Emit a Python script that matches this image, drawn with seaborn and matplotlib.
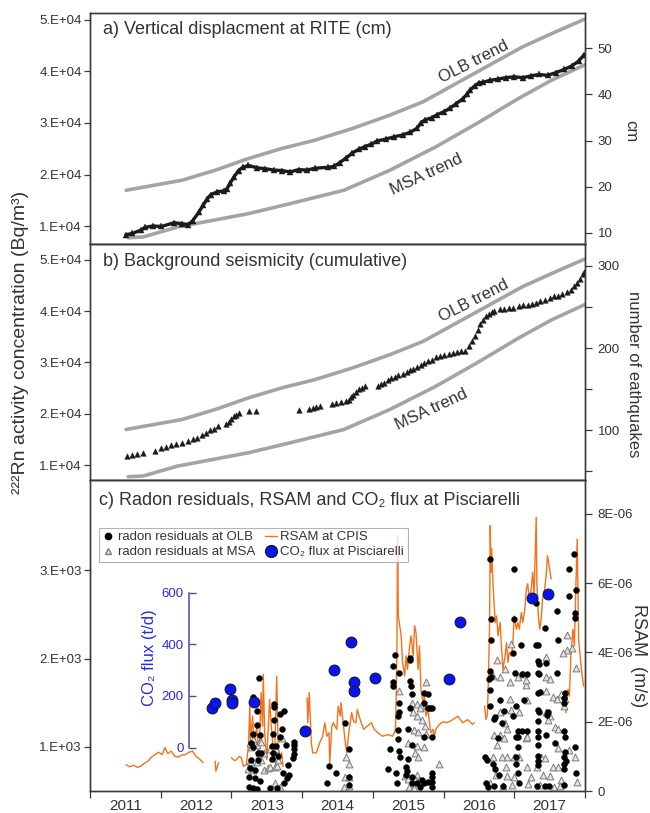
import numpy as np
import pandas as pd
import matplotlib
matplotlib.use("Agg")
import matplotlib.pyplot as plt
import seaborn as sns
from matplotlib.lines import Line2D

# ---------------- data ----------------
years = [2011, 2012, 2013, 2014, 2015, 2016, 2017]

# gray radon trends (Bq/m3), same in panels a and b
olb_trend_year = [2011.51, 2012.30, 2012.77, 2013.24, 2013.71, 2014.18, 2014.71, 2015.24,
                  2015.71, 2016.18, 2016.65, 2017.12, 2017.59, 2017.99]
olb_trend_val = [16937, 18882, 20826, 23096, 25041, 26661, 28930, 31524,
                 34117, 37682, 41248, 44814, 47731, 50130]
msa_trend_year = [2011.54, 2011.75, 2012.24, 2013.24, 2013.83, 2014.59, 2015.24, 2015.89,
                  2016.47, 2017.06, 2017.53, 2017.99]
msa_trend_val = [7730, 7864, 9805, 12398, 14343, 16937, 20826, 25365,
                 29903, 34765, 38331, 41248]

# panel a: vertical displacement at RITE (cm)
disp_year = [2011.51, 2011.60, 2011.72, 2011.78, 2011.89, 2012.01, 2012.19, 2012.30, 2012.39,
             2012.45, 2012.54, 2012.60, 2012.66, 2012.71, 2012.80, 2012.89, 2012.94, 2012.98,
             2013.04, 2013.10, 2013.16, 2013.24, 2013.36, 2013.48, 2013.60, 2013.71, 2013.83,
             2013.95, 2014.07, 2014.18, 2014.36, 2014.45, 2014.53, 2014.62, 2014.71, 2014.80,
             2014.89, 2014.98, 2015.06, 2015.18, 2015.30, 2015.42, 2015.53, 2015.62, 2015.68,
             2015.74, 2015.83, 2015.91, 2016.00, 2016.09, 2016.18, 2016.27, 2016.33, 2016.38,
             2016.44, 2016.50, 2016.56, 2016.65, 2016.77, 2016.88, 2017.00, 2017.12, 2017.24,
             2017.35, 2017.47, 2017.59, 2017.71, 2017.82, 2017.91, 2017.99]
disp_cm = [9.6, 9.9, 10.6, 11.2, 11.5, 11.4, 12.2, 12.0, 11.8,
           12.6, 14.5, 16.0, 17.4, 18.3, 18.9, 19.1, 19.6, 20.7,
           22.2, 23.5, 24.2, 24.6, 24.1, 23.9, 23.6, 23.5, 23.2,
           23.7, 23.6, 24.0, 24.2, 24.4, 25.2, 26.2, 27.3, 28.1,
           28.7, 29.2, 29.9, 30.3, 30.8, 31.2, 31.8, 32.6, 33.8,
           34.5, 34.9, 35.6, 36.2, 37.0, 38.0, 39.0, 40.0, 41.0,
           41.8, 42.5, 42.6, 43.0, 43.3, 43.6, 43.8, 43.6, 44.0,
           44.3, 44.1, 44.7, 45.4, 46.2, 47.2, 48.6]

# panel b: cumulative background seismicity
eq_year = [2011.53, 2011.60, 2011.67, 2011.75, 2011.92,
           2012.01, 2012.08, 2012.15, 2012.22, 2012.30, 2012.38, 2012.45, 2012.52, 2012.58,
           2012.64, 2012.70, 2012.75, 2012.81,
           2012.92, 2012.96, 2013.00, 2013.04, 2013.07, 2013.10,
           2013.25, 2013.35,
           2013.95, 2014.10, 2014.15, 2014.20, 2014.25, 2014.42, 2014.48, 2014.55, 2014.62,
           2014.66, 2014.69, 2014.72, 2014.76, 2014.80, 2014.85, 2014.89,
           2015.07, 2015.12, 2015.16, 2015.21, 2015.26, 2015.31, 2015.36, 2015.42, 2015.48,
           2015.52, 2015.57, 2015.62, 2015.68, 2015.73, 2015.78, 2015.84, 2015.89, 2015.95,
           2016.01, 2016.07, 2016.13, 2016.19, 2016.25, 2016.31, 2016.36, 2016.40, 2016.44,
           2016.48, 2016.52, 2016.56, 2016.60, 2016.64, 2016.68, 2016.72,
           2016.80, 2016.86, 2016.92, 2016.98, 2017.07, 2017.13, 2017.19, 2017.25, 2017.31,
           2017.37, 2017.43, 2017.50, 2017.56, 2017.62, 2017.68, 2017.74, 2017.80, 2017.85,
           2017.89, 2017.93, 2017.97, 2017.99]
eq_count = [69, 70, 71, 72, 75,
            78, 80, 82, 83, 85, 87, 89, 91, 94,
            97, 100, 102, 105,
            107, 110, 114, 117, 119, 121,
            124, 124,
            125, 126, 127, 128, 129, 132, 133, 134, 135,
            137, 140, 143, 147, 150, 152, 154,
            154, 156, 158, 161, 163, 165, 167, 169, 171,
            173, 175, 177, 180, 182, 184, 186, 189, 190,
            192, 193, 194, 195, 196, 197, 203, 209, 215,
            222, 229, 234, 239, 242, 244, 245,
            247, 248, 249, 249, 251, 252, 253, 254, 255,
            257, 259, 261, 263, 264, 266, 268, 271, 275,
            279, 284, 290, 293]

# panel c: RSAM at CPIS (1e-6 m/s); None separates data gaps
rsam_year = [2011.51, 2011.56, 2011.62, 2011.67, 2011.72, 2011.77, 2011.82, 2011.87, 2011.92,
             2011.97, 2012.02, 2012.06, 2012.10, 2012.15, 2012.20, 2012.25, 2012.30, 2012.35,
             2012.40, 2012.45, 2012.50, 2012.55, 2012.60, None,
             2012.77, 2012.78, 2012.80, 2012.82, None,
             2013.00, 2013.04, 2013.07, 2013.11, 2013.14, 2013.17, 2013.21, 2013.24, 2013.26,
             2013.27, 2013.28, 2013.30, 2013.32, 2013.34, 2013.36, 2013.38, 2013.40, 2013.42,
             2013.44, 2013.45, 2013.47, 2013.50, 2013.54, 2013.56, 2013.59, 2013.61, 2013.64,
             2013.66, 2013.69, 2013.71, 2013.73, None,
             2014.07, 2014.08, 2014.10, 2014.13, 2014.15, 2014.20, 2014.25, 2014.29, 2014.32,
             2014.35, 2014.38, 2014.39, 2014.42, 2014.44, 2014.49, 2014.51, 2014.54, 2014.55,
             2014.58, 2014.61, 2014.63, 2014.66, 2014.68, 2014.70, 2014.73, 2014.76, 2014.78,
             2014.83, 2014.87, 2014.92, 2014.98, 2015.02, 2015.07, 2015.14, 2015.21, 2015.28,
             2015.32, 2015.33, 2015.34, 2015.35, 2015.36, 2015.38, 2015.40, 2015.42, 2015.45,
             2015.47, 2015.49, 2015.52, 2015.54, 2015.57, 2015.59, 2015.61, 2015.64, 2015.66,
             2015.68, 2015.71, 2015.73, 2015.75, 2015.78, 2015.80, 2015.82, 2015.85, 2015.87,
             2015.89, 2015.94, 2016.00, 2016.04, 2016.10, 2016.16, 2016.20, 2016.27, 2016.34,
             2016.41, 2016.43, None,
             2016.58, 2016.60, 2016.62, 2016.63, 2016.65, 2016.66, 2016.67, 2016.68, 2016.70,
             2016.73, 2016.75, 2016.77, 2016.80, 2016.82, 2016.84, 2016.87, 2016.89, 2016.91,
             2016.93, 2016.96, 2016.98, 2017.00, 2017.03, 2017.05, 2017.07, 2017.10, 2017.12,
             2017.15, 2017.17, 2017.19, 2017.21, 2017.24, 2017.26, 2017.28, 2017.31, 2017.32,
             2017.34, 2017.36, 2017.38, 2017.40, 2017.43, 2017.45, 2017.47, 2017.50, 2017.52,
             None,
             2017.73, 2017.76, 2017.78, 2017.80, 2017.83, 2017.85, 2017.87, 2017.89, 2017.90,
             2017.91, 2017.94, 2017.96, 2017.98]
rsam_val = [0.76, 0.70, 0.74, 0.68, 0.72, 0.80, 0.86, 0.98, 1.05,
            1.12, 1.05, 1.25, 1.08, 1.15, 1.00, 0.98, 1.04, 1.05,
            1.12, 1.15, 1.00, 0.92, 0.82, None,
            0.86, 0.57, 0.70, 0.82, None,
            0.96, 0.88, 0.90, 1.00, 0.96, 0.71, 0.76, 1.29, 2.45,
            1.50, 1.69, 2.16, 1.29, 1.60, 1.87, 1.00, 1.60, 2.84,
            1.87, 3.37, 1.69, 0.91, 2.64, 1.98, 1.20, 0.91, 3.32,
            1.29, 0.91, 1.10, 0.71, None,
            2.69, 1.97, 2.84, 1.39, 1.10, 1.10, 1.40, 1.58, 1.97,
            1.58, 1.68, 0.81, 1.87, 1.97, 1.78, 2.45, 2.16, 2.55,
            1.97, 1.40, 1.10, 1.68, 1.97, 2.26, 2.00, 1.97, 2.35,
            2.00, 1.78, 1.87, 1.97, 1.78, 1.68, 1.58, 1.63, 1.58,
            1.78, 2.74, 4.09, 7.37, 5.05, 4.77, 4.48, 3.71, 3.32,
            3.90, 3.51, 4.19, 4.48, 3.90, 4.77, 4.57, 3.51, 4.19,
            2.93, 2.55, 2.74, 2.16, 2.35, 1.97, 1.68, 1.78, 1.58,
            1.78, 1.92, 2.00, 1.97, 2.02, 2.10, 2.16, 1.97, 2.06,
            1.92, 1.97, None,
            2.45, 2.06, 2.20, 2.93, 4.67, 7.66, 6.31, 6.99, 5.92,
            4.86, 5.05, 4.48, 4.86, 4.09, 3.51, 3.90, 4.28, 3.71,
            4.00, 3.90, 4.28, 5.05, 4.67, 4.86, 4.67, 5.15, 4.86,
            5.25, 5.83, 5.98, 5.54, 5.83, 6.31, 5.64, 7.90, 5.98,
            5.05, 4.67, 4.95, 5.54, 5.83, 6.21, 6.79, 6.41, 6.12,
            None,
            2.26, 2.93, 2.74, 3.90, 4.67, 4.19, 5.83, 7.27, 5.83,
            4.38, 3.71, 3.32, 3.03]

# radon residuals at OLB (Bq/m3)
olb_res_year = [2013.39, 2013.31, 2013.36, 2013.36, 2013.30, 2013.40, 2013.28, 2013.31, 2013.38, 2013.42,
                2013.28, 2013.38, 2013.26, 2013.33, 2013.25, 2013.33, 2013.40, 2013.25, 2013.30, 2013.36,
                2013.60, 2013.60, 2013.68, 2013.75, 2013.60, 2013.71, 2013.59, 2013.68, 2013.57, 2013.63,
                2013.77, 2013.59, 2013.66, 2013.57, 2013.80, 2013.73, 2013.78, 2013.82, 2013.75, 2013.55,
                2013.64, 2013.88, 2013.88, 2013.88, 2013.88, 2013.87,
                2014.60, 2014.66, 2014.38, 2014.48, 2014.35, 2014.66, 2014.66,
                2015.31, 2015.29, 2015.37, 2015.52, 2015.53, 2015.28, 2015.29, 2015.37, 2015.37, 2015.36,
                2015.52, 2015.53, 2015.54, 2015.55, 2015.73, 2015.78, 2015.78, 2015.81, 2015.83, 2015.73,
                2015.50, 2015.35, 2015.35, 2015.24, 2015.37, 2015.38, 2015.50, 2015.55, 2015.72, 2015.84,
                2015.21, 2015.33, 2015.47, 2015.48, 2015.47, 2015.34, 2015.55, 2015.55, 2015.83, 2015.83,
                2015.83, 2015.83, 2015.73, 2015.70, 2015.78, 2015.63, 2015.67,
                2016.66, 2017.00, 2017.84, 2017.77, 2017.87, 2017.77, 2017.31, 2017.61, 2017.86, 2017.86,
                2017.44, 2016.67, 2017.00, 2016.67, 2017.10, 2017.31, 2017.34, 2017.62, 2016.98, 2016.66,
                2016.64, 2016.67, 2016.65, 2017.01, 2017.11, 2017.18, 2017.33, 2017.35, 2017.33, 2017.35,
                2017.45, 2017.61, 2017.33, 2017.37, 2017.72, 2017.70, 2017.71, 2016.65, 2016.80, 2016.86,
                2017.14, 2017.02, 2016.98, 2016.73, 2016.72, 2017.33, 2017.35, 2017.48, 2017.46, 2017.33,
                2016.82, 2017.05, 2017.11, 2017.18, 2017.02, 2017.05, 2017.33, 2017.34, 2017.45, 2017.72,
                2017.71, 2016.77, 2017.05, 2017.33, 2017.57, 2017.86, 2017.72, 2017.71, 2017.73, 2017.70,
                2017.71, 2016.58, 2016.61, 2016.70, 2017.03, 2017.02, 2017.33, 2017.34, 2016.73, 2016.78,
                2017.05, 2017.33, 2017.87, 2016.60, 2016.63, 2016.72, 2016.84, 2017.07, 2017.32, 2017.44,
                2017.49, 2017.70]
olb_res_val = [1781, 1565, 1401, 1250, 1148, 1136, 1049, 1003, 928, 928,
               852, 852, 758, 739, 663, 644, 617, 549, 530, 519,
               1489, 1451, 1375, 1409, 1299, 1201, 1148, 1117, 1011, 1011,
               1023, 935, 898, 860, 795, 708, 644, 682, 594, 530,
               530, 1060, 1023, 974, 920, 871,
               1269, 974, 784, 701, 594, 655, 568,
               2038, 1920, 1837, 1989, 2008, 1731, 1685, 1496, 1390, 1344,
               1440, 1742, 1685, 1602, 1610, 1602, 1440, 1440, 1440, 1496,
               1201, 1193, 1087, 974, 958, 890, 860, 1023, 1117, 1110,
               746, 708, 776, 730, 682, 587, 655, 594, 701, 655,
               606, 549, 587, 620, 606, 587, 549,
               3133, 3011, 3182, 3011, 2773, 2708, 2633, 2538, 2519, 2462,
               2349, 2443, 2443, 2208, 2159, 2159, 2159, 2208, 2065, 1856,
               1770, 1790, 1648, 1837, 1830, 1830, 1970, 1943, 1837, 1820,
               1951, 1837, 1610, 1620, 1610, 1550, 1500, 1458, 1526, 1401,
               1526, 1458, 1344, 1340, 1320, 1413, 1390, 1390, 1360, 1288,
               1269, 1182, 1175, 1182, 1117, 1117, 1182, 1117, 1130, 1117,
               1182, 1098, 1003, 1023, 1042, 1003, 946, 890, 845, 808,
               746, 890, 852, 807, 882, 807, 898, 845, 746, 682,
               701, 795, 708, 587, 549, 557, 557, 594, 557, 560,
               560, 568]

# radon residuals at MSA (Bq/m3)
msa_res_year = [2013.26, 2013.30, 2013.28, 2013.36, 2013.40, 2013.42, 2013.26, 2013.28, 2013.36, 2013.42,
                2013.24, 2013.31, 2013.46, 2013.52, 2013.55, 2013.62, 2013.65, 2013.39, 2013.46, 2013.59,
                2013.63, 2013.71, 2013.66, 2013.59, 2013.61, 2013.69, 2013.65, 2013.55,
                2014.62, 2014.66, 2014.60, 2014.66, 2014.59, 2014.66,
                2015.75, 2015.37, 2015.55, 2015.62, 2015.68, 2015.66, 2015.57, 2015.62, 2015.70, 2015.74,
                2015.58, 2015.64, 2015.75, 2015.50, 2015.62, 2015.73, 2015.60, 2015.64, 2015.94, 2015.62,
                2015.59, 2015.65, 2015.45, 2015.50, 2015.55, 2015.51, 2015.58,
                2017.75, 2017.75, 2017.69, 2017.82, 2016.95, 2017.45, 2016.76, 2016.87, 2017.87, 2016.80,
                2016.70, 2017.05, 2017.17, 2017.16, 2017.12, 2017.45, 2017.50, 2016.94, 2017.45, 2017.55,
                2017.60, 2017.66, 2016.94, 2017.18, 2017.72, 2017.71, 2016.80, 2016.95, 2017.07, 2017.45,
                2017.51, 2017.47, 2016.87, 2016.90, 2016.72, 2016.80, 2016.85, 2017.16, 2017.18, 2017.58,
                2017.62, 2016.76, 2017.62, 2017.77, 2016.70, 2016.83, 2016.90, 2016.99, 2017.07, 2017.38,
                2017.44, 2017.86, 2016.88, 2017.18, 2017.32, 2017.55, 2017.62, 2016.74, 2016.90, 2016.99,
                2017.23, 2017.41, 2017.51, 2017.66, 2017.88, 2016.66, 2016.84, 2016.97, 2017.19, 2017.36,
                2017.56, 2017.64]
msa_res_val = [1049, 1090, 1000, 1020, 1070, 1050, 840, 830, 830, 855,
               745, 740, 740, 760, 770, 770, 780, 928, 928, 960,
               980, 1098, 852, 870, 590, 550, 520, 974,
               890, 807, 659, 659, 545, 555,
               1739, 1628, 1500, 1480, 1460, 1440, 1390, 1350, 1300, 1240,
               1193, 1170, 1150, 1040, 1010, 1000, 930, 890, 807, 680,
               640, 630, 670, 640, 580, 540, 530,
               2270, 2100, 2060, 2120, 2167, 2015, 1981, 1883, 1895, 1795,
               1800, 1795, 1700, 1760, 1820, 1795, 1770, 1731, 1628, 1560,
               1545, 1600, 1545, 1526, 1545, 1460, 1390, 1420, 1390, 1400,
               1350, 1300, 1270, 1200, 1136, 1136, 1098, 1098, 1110, 1230,
               1200, 1023, 990, 970, 890, 890, 890, 890, 890, 890,
               875, 880, 776, 776, 776, 776, 776, 680, 670, 660,
               660, 680, 670, 620, 600, 590, 560, 570, 575, 570,
               540, 560]

# CO2 flux at Pisciarelli (t/d)
co2_year = [2012.72, 2012.77, 2012.98, 2013.01, 2013.01, 2013.32, 2014.04, 2014.45,
            2014.69, 2014.74, 2014.74, 2015.03, 2016.08, 2016.23, 2017.25, 2017.48]
co2_flux = [153, 173, 228, 185, 173, 175, 65, 302,
            408, 254, 218, 270, 266, 486, 581, 596]

# ---------------- style ----------------
sns.set_theme(style="ticks")
plt.rcParams["font.family"] = ["Liberation Sans", "DejaVu Sans"]
plt.rcParams["axes.unicode_minus"] = False

SPINE = "#3a3a3a"
TXT = "#333333"
GRAY = "#a4a4a4"
BLACK = "#1b1b1b"
ORANGE = "#f5721a"
BLUE = "#0a14f2"

fig = plt.figure(figsize=(6.5, 8.13), dpi=100)
L, W = 90 / 650, 495 / 650
axa = fig.add_axes([L, 1 - 244 / 813, W, 231 / 813])
axb = fig.add_axes([L, 1 - 480 / 813, W, 236 / 813])
axc = fig.add_axes([L, 1 - 791 / 813, W, 311 / 813])


def style_spines(ax):
    for s in ax.spines.values():
        s.set_color(SPINE)
        s.set_linewidth(1.0)


def left_ticks(ax, ticks, labels):
    ax.set_yticks(ticks)
    ax.set_yticklabels(labels)
    ax.tick_params(axis="y", which="major", left=True, right=False, labelleft=True,
                   labelright=False, direction="out", length=4, width=0.9,
                   color=SPINE, labelcolor=TXT, labelsize=9.5, pad=2)


def right_ticks(ax, ticks, labels, minor=None):
    ax.set_yticks(ticks)
    ax.set_yticklabels(labels)
    if minor is not None:
        ax.set_yticks(minor, minor=True)
    ax.tick_params(axis="y", which="both", right=True, left=False, labelright=True,
                   labelleft=False, direction="out", length=5, width=0.9,
                   color=SPINE, labelcolor=TXT, labelsize=9.5, pad=4)


def no_x(ax):
    ax.tick_params(axis="x", which="both", bottom=False, top=False,
                   labelbottom=False, labeltop=False)


# ---------------- panel a ----------------
axa.set_xlim(2011, 2018)
sns.lineplot(x=olb_trend_year, y=olb_trend_val, ax=axa, color=GRAY, lw=2.6, sort=False)
sns.lineplot(x=msa_trend_year, y=msa_trend_val, ax=axa, color=GRAY, lw=2.6, sort=False)
axa.set_ylim(6505, 51359)
axa_r = axa.twinx()
sns.lineplot(x=disp_year, y=disp_cm, ax=axa_r, color=BLACK, lw=2.4, marker="^",
             markersize=3.8, markeredgecolor=BLACK, markeredgewidth=0.3, sort=False)
axa_r.set_ylim(7.6, 57.6)
left_ticks(axa, [10000, 20000, 30000, 40000, 50000],
           ["1.E+04", "2.E+04", "3.E+04", "4.E+04", "5.E+04"])
right_ticks(axa_r, [10, 20, 30, 40, 50], ["10", "20", "30", "40", "50"])
axa.text(0.026, 0.965, "a) Vertical displacment at RITE (cm)", transform=axa.transAxes,
         ha="left", va="top", fontsize=13, color=TXT)
axa.text(0.775, 0.79, "OLB trend", transform=axa.transAxes, ha="center", va="center",
         rotation=27, fontsize=12, color=TXT)
axa.text(0.679, 0.303, "MSA trend", transform=axa.transAxes, ha="center", va="center",
         rotation=25, fontsize=12, color=TXT)

# ---------------- panel b ----------------
axb.set_xlim(2011, 2018)
sns.lineplot(x=olb_trend_year, y=olb_trend_val, ax=axb, color=GRAY, lw=2.6, sort=False)
sns.lineplot(x=msa_trend_year, y=msa_trend_val, ax=axb, color=GRAY, lw=2.6, sort=False)
axb.set_ylim(7087, 53107)
axb_r = axb.twinx()
sns.scatterplot(x=eq_year, y=eq_count, ax=axb_r, marker="^", s=16, color=BLACK,
                edgecolor=BLACK, linewidth=0.3)
axb_r.set_ylim(39.4, 326.7)
left_ticks(axb, [10000, 20000, 30000, 40000, 50000],
           ["1.E+04", "2.E+04", "3.E+04", "4.E+04", "5.E+04"])
right_ticks(axb_r, [100, 200, 300], ["100", "200", "300"], minor=[50, 150, 250])
axb_r.tick_params(axis="y", which="minor", length=5, width=0.9, color=SPINE,
                  right=True, left=False)
axb.text(0.026, 0.962, "b) Background seismicity (cumulative)", transform=axb.transAxes,
         ha="left", va="top", fontsize=13, color=TXT)
axb.text(0.775, 0.76, "OLB trend", transform=axb.transAxes, ha="center", va="center",
         rotation=27, fontsize=12, color=TXT)
axb.text(0.69, 0.30, "MSA trend", transform=axb.transAxes, ha="center", va="center",
         rotation=25, fontsize=12, color=TXT)

# ---------------- panel c ----------------
axc.set_xlim(2011, 2018)
seg, sid = [], 0
for yv in rsam_year:
    if yv is None:
        sid += 1
    seg.append(sid)
rsam_df = pd.DataFrame({"year": rsam_year, "rsam": rsam_val, "seg": seg}).dropna()
rsam_df["rsam"] = rsam_df["rsam"].astype(float) * 1e-6
rsam_df["year"] = rsam_df["year"].astype(float)
sns.lineplot(data=rsam_df, x="year", y="rsam", units="seg", estimator=None, ax=axc,
             color=ORANGE, lw=1.0, sort=False)
axc.set_ylim(0, 8.975e-6)

ax_res = axc.twinx()
sns.scatterplot(x=msa_res_year, y=msa_res_val, ax=ax_res, marker="^", s=24,
                color="#e4e4e4", edgecolor="#7a7a7a", linewidth=0.7)
sns.scatterplot(x=olb_res_year, y=olb_res_val, ax=ax_res, marker="o", s=18,
                color="black", edgecolor="black", linewidth=0.3)
ax_res.set_ylim(500, 4023)

ax_co2 = axc.twinx()
sns.scatterplot(x=co2_year, y=co2_flux, ax=ax_co2, marker="o", s=60, color=BLUE,
                edgecolor="#14143c", linewidth=0.8, zorder=5)
ax_co2.set_ylim(-168, 1036)

for ax in (axc, ax_res, ax_co2, axa, axa_r, axb, axb_r):
    ax.set_xlabel("")
    ax.set_ylabel("")

# RSAM on right, residuals on left
axc.yaxis.tick_right()
right_ticks(axc, [0, 2e-6, 4e-6, 6e-6, 8e-6], ["0", "2E-06", "4E-06", "6E-06", "8E-06"])
ax_res.yaxis.tick_left()
left_ticks(ax_res, [1000, 2000, 3000], ["1.E+03", "2.E+03", "3.E+03"])

# CO2 inset axis
ax_co2.spines["right"].set_visible(False)
ax_co2.spines["top"].set_visible(False)
ax_co2.spines["bottom"].set_visible(False)
ax_co2.spines["left"].set_visible(True)
ax_co2.spines["left"].set_position(("data", 2012.40))
ax_co2.spines["left"].set_bounds(0, 600)
ax_co2.spines["left"].set_color("#4b4b9c")
ax_co2.spines["left"].set_linewidth(1.1)
ax_co2.yaxis.tick_left()
ax_co2.yaxis.set_label_position("left")
ax_co2.set_yticks([0, 200, 400, 600])
ax_co2.set_yticklabels(["0", "200", "400", "600"])
ax_co2.tick_params(axis="y", which="both", left=True, right=False, labelleft=True,
                   labelright=False, direction="in", length=5, width=1.0,
                   color="#4b4b9c", labelcolor="#2a2ae6", labelsize=9.5, pad=4)
ax_co2.set_ylabel("CO₂ flux (t/d)", color="#2a2ae6", fontsize=12)
ax_co2.yaxis.set_label_coords(0.135, 0.43)

# x axis: year boundaries ticks, labels centered in each year
axc.set_xticks(list(range(2011, 2019)))
axc.set_xticks([y + 0.5 for y in years], minor=True)
axc.set_xticklabels([str(y) for y in years], minor=True)
axc.tick_params(axis="x", which="major", bottom=True, top=False, labelbottom=False,
                direction="out", length=5, width=0.9, color=SPINE)
axc.tick_params(axis="x", which="minor", bottom=True, top=False, labelbottom=True,
                length=0, pad=6, labelsize=11, labelcolor=TXT)
for ax in (ax_res, ax_co2, axa, axa_r, axb, axb_r):
    no_x(ax)

for ax in (axa, axa_r, axb, axb_r, axc, ax_res):
    style_spines(ax)

axc.text(0.018, 0.961, "c) Radon residuals, RSAM and CO₂ flux at Pisciarelli",
         transform=axc.transAxes, ha="left", va="top", fontsize=13, color=TXT)

handles = [
    Line2D([], [], marker="o", color="black", ls="none", ms=4.5),
    Line2D([], [], marker="^", mfc="#e4e4e4", mec="#7a7a7a", ls="none", ms=5),
    Line2D([], [], color=ORANGE, lw=1.0),
    Line2D([], [], marker="o", mfc=BLUE, mec="#14143c", ls="none", ms=8.5),
]
labels = ["radon residuals at OLB", "radon residuals at MSA", "RSAM at CPIS",
          "CO₂ flux at Pisciarelli"]
leg = ax_co2.legend(handles, labels, ncol=2, loc="upper left",
                    bbox_to_anchor=(0.018, 0.846), borderaxespad=0, fontsize=9.5,
                    frameon=True, fancybox=False, edgecolor="#a0a0a0",
                    handlelength=0.9, handletextpad=0.3, columnspacing=0.7,
                    labelspacing=0.2, borderpad=0.25)
leg.get_frame().set_linewidth(0.8)
for t in leg.get_texts():
    t.set_color(TXT)

# axis titles
fig.text(0.031, 0.579, "²²²Rn activity concentration (Bq/m³)", rotation=90,
         ha="center", va="center", fontsize=14, color=TXT)
fig.text(0.971, 0.839, "cm", rotation=270, ha="center", va="center", fontsize=12, color=TXT)
fig.text(0.975, 0.54, "number of eathquakes", rotation=270, ha="center", va="center",
         fontsize=12, color=TXT)
fig.text(0.982, 0.194, "RSAM  (m/s)", rotation=270, ha="center", va="center",
         fontsize=13, color=TXT)

fig.savefig("out.png", dpi=100)
